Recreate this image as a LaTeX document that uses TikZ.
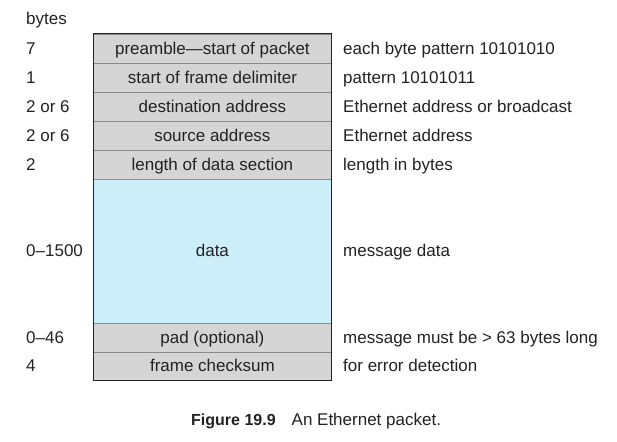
\documentclass[tikz,border=0pt]{standalone}
\usepackage{fontspec}
\setmainfont{Liberation Sans}
\definecolor{rowgray}{HTML}{D5D5D5}
\definecolor{datablue}{HTML}{CCEEF8}
\definecolor{sepgray}{HTML}{8A8A8A}
\definecolor{txt}{HTML}{222222}
\begin{document}
\begin{tikzpicture}[x=1pt,y=-1pt,
  field/.style={draw=sepgray,line width=0.8pt,fill=rowgray,minimum width=238pt,inner sep=0pt,anchor=north west,text=txt,text height=13pt,text depth=2pt,font=\fontsize{17}{20}\selectfont},
  lbl/.style={anchor=west,inner sep=0pt,text=txt,text height=13pt,text depth=2pt,font=\fontsize{17}{20}\selectfont}]
\useasboundingbox (0,0) rectangle (617,441);
\node[field,minimum height=29pt] (f1) at (93,34) {preamble—start of packet};
\node[field,minimum height=29pt] (f2) at (93,63) {start of frame delimiter};
\node[field,minimum height=29pt] (f3) at (93,92) {destination address};
\node[field,minimum height=29pt] (f4) at (93,121) {source address};
\node[field,minimum height=29pt] (f5) at (93,150) {length of data section};
\node[field,minimum height=144pt,fill=datablue] (f6) at (93,179) {data};
\node[field,minimum height=29pt] (f7) at (93,323) {pad (optional)};
\node[field,minimum height=28pt] (f8) at (93,352) {frame checksum};
\draw[draw=txt,line width=1pt] (f1.north west) rectangle (f8.south east);
\coordinate (lcol) at (26,0);
\coordinate (rcol) at (343,0);
\node[lbl] (bytes) at (26,19.5) {bytes};
\node[lbl] (b1) at (f1.center -| lcol) {7};
\node[lbl] (b2) at (f2.center -| lcol) {1};
\node[lbl] (b3) at (f3.center -| lcol) {2 or 6};
\node[lbl] (b4) at (f4.center -| lcol) {2 or 6};
\node[lbl] (b5) at (f5.center -| lcol) {2};
\node[lbl] (b6) at (f6.center -| lcol) {0–1500};
\node[lbl] (b7) at (f7.center -| lcol) {0–46};
\node[lbl] (b8) at (f8.center -| lcol) {4};
\node[lbl] (d1) at (f1.center -| rcol) {each byte pattern 10101010};
\node[lbl] (d2) at (f2.center -| rcol) {pattern 10101011};
\node[lbl] (d3) at (f3.center -| rcol) {Ethernet address or broadcast};
\node[lbl] (d4) at (f4.center -| rcol) {Ethernet address};
\node[lbl] (d5) at (f5.center -| rcol) {length in bytes};
\node[lbl] (d6) at (f6.center -| rcol) {message data};
\node[lbl] (d7) at (f7.center -| rcol) {message must be > 63 bytes long};
\node[lbl] (d8) at (f8.center -| rcol) {for error detection};
\node[lbl] (cap) at (191,419.5) {{\fontsize{16}{19}\selectfont\bfseries Figure 19.9}\hspace{16pt}An Ethernet packet.};
\end{tikzpicture}
\end{document}
